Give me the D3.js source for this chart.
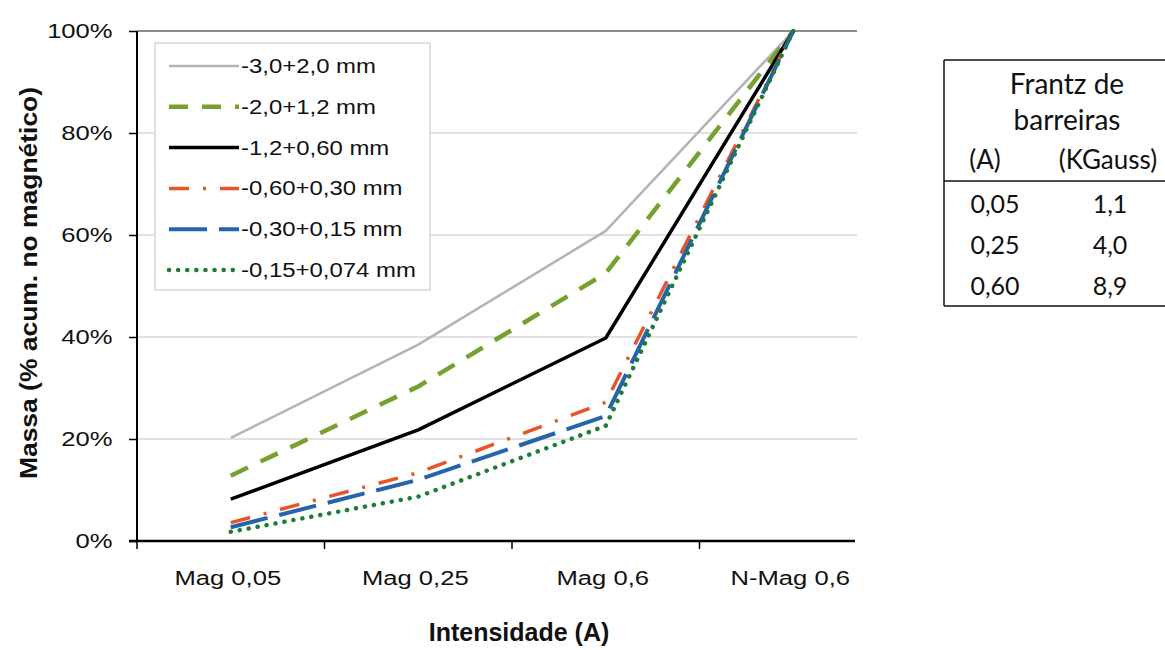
<!DOCTYPE html>
<html>
<head>
<meta charset="utf-8">
<script src="https://cdn.jsdelivr.net/npm/d3@7"></script>
<style>
  html, body { margin: 0; padding: 0; background: #fff; }
  svg { display: block; }
</style>
</head>
<body>
<svg id="chart" width="1165" height="650"></svg>
<script>
// ---- data ----
const categories = ["Mag 0,05", "Mag 0,25", "Mag 0,6", "N-Mag 0,6"];
const seriesNames = ["-3,0+2,0 mm", "-2,0+1,2 mm", "-1,2+0,60 mm", "-0,60+0,30 mm", "-0,30+0,15 mm", "-0,15+0,074 mm"];
const s_3_0 = [20.2, 38.5, 60.8, 100];
const s_2_0 = [12.8, 30.3, 52.5, 100];
const s_1_2 = [8.2, 21.8, 39.8, 100];
const s_0_60 = [3.6, 13.4, 27.2, 100];
const s_0_30 = [2.7, 12.0, 24.5, 100];
const s_0_15 = [1.8, 8.7, 22.6, 100];
const yTicks = [0, 20, 40, 60, 80, 100];
const tableHeader1 = ["Frantz de", "barreiras"];
const tableHeader2 = ["(A)", "(KGauss)"];
const tableAmps = ["0,05", "0,25", "0,60"];
const tableKGauss = ["1,1", "4,0", "8,9"];

const seriesValues = [s_3_0, s_2_0, s_1_2, s_0_60, s_0_30, s_0_15];
const styles = [
  { color: "#b4b4b4", width: 2.5, dash: null, cap: "butt" },
  { color: "#76a12f", width: 4.5, dash: "19,14", cap: "butt" },
  { color: "#000000", width: 3.5, dash: null, cap: "butt" },
  { color: "#e8542a", width: 3.5, dash: "20,14,3,14", cap: "butt" },
  { color: "#2464ad", width: 4, dash: "38,12", cap: "butt" },
  { color: "#1e7d36", width: 4.5, dash: "0.1,9", cap: "round" }
];

const svg = d3.select("#chart");
const FONT = "'Liberation Sans', Arial, sans-serif";
const SX = 1.22; // horizontal stretch of the scanned text

const plotLeft = 137, plotRight = 857, plotTop = 31, plotBottom = 541;
const x = d3.scaleBand().domain(categories).range([plotLeft, 887]).paddingInner(0).paddingOuter(0);
const y = d3.scaleLinear().domain([0, 100]).range([plotBottom, plotTop]);

// gridlines
svg.append("g").selectAll("line")
  .data(yTicks.filter(d => d > 0))
  .join("line")
  .attr("x1", plotLeft).attr("x2", plotRight)
  .attr("y1", d => y(d)).attr("y2", d => y(d))
  .attr("stroke", d => d === 100 ? "#8c8c8c" : "#e2e2e2")
  .attr("stroke-width", 2);

// y axis
const yAxis = svg.append("g")
  .attr("transform", `translate(${plotLeft},0)`)
  .call(d3.axisLeft(y).tickValues(yTicks).tickFormat(d => d + "%").tickSize(8).tickPadding(12));
yAxis.select(".domain").attr("stroke", "#000").attr("stroke-width", 2).attr("d", `M0,${plotTop}V${plotBottom}`);
yAxis.selectAll(".tick line").attr("stroke", "#000").attr("stroke-width", 1.5);
yAxis.selectAll(".tick text")
  .attr("font-family", FONT).attr("font-size", 21).attr("fill", "#111")
  .attr("transform", `scale(${SX},1)`);

// x axis
const xAxisG = svg.append("g");
xAxisG.append("line")
  .attr("x1", plotLeft - 8).attr("x2", 855)
  .attr("y1", plotBottom).attr("y2", plotBottom)
  .attr("stroke", "#000").attr("stroke-width", 2.5);
xAxisG.selectAll("line.tk")
  .data(categories)
  .join("line").attr("class", "tk")
  .attr("x1", d => x(d)).attr("x2", d => x(d))
  .attr("y1", plotBottom).attr("y2", plotBottom + 8)
  .attr("stroke", "#000").attr("stroke-width", 1.5);
xAxisG.selectAll("g.lbl")
  .data(categories)
  .join("g").attr("class", "lbl")
  .attr("transform", d => `translate(${x(d) + x.bandwidth() / 2 - 3},585) scale(${SX},1)`)
  .append("text")
  .attr("text-anchor", "middle")
  .attr("font-family", FONT).attr("font-size", 21).attr("fill", "#111")
  .text(d => d);

// axis titles
svg.append("g")
  .attr("transform", `translate(519,641)`)
  .append("text")
  .attr("text-anchor", "middle")
  .attr("font-family", FONT).attr("font-size", 25).attr("font-weight", "bold").attr("fill", "#111")
  .text("Intensidade (A)");
svg.append("g")
  .attr("transform", `translate(37,283) rotate(-90) scale(1.15,1)`)
  .append("text")
  .attr("text-anchor", "middle")
  .attr("font-family", FONT).attr("font-size", 23).attr("font-weight", "bold").attr("fill", "#111")
  .text("Massa (% acum. no magnético)");

// lines
const line = d3.line()
  .x((d, i) => x(categories[i]) + x.bandwidth() / 2)
  .y(d => y(d));
svg.append("g").selectAll("path")
  .data(seriesValues)
  .join("path")
  .attr("d", d => line(d))
  .attr("fill", "none")
  .attr("stroke", (d, i) => styles[i].color)
  .attr("stroke-width", (d, i) => styles[i].width)
  .attr("stroke-dasharray", (d, i) => styles[i].dash)
  .attr("stroke-linecap", (d, i) => styles[i].cap)
  .attr("stroke-linejoin", "round");

// legend
const leg = svg.append("g");
leg.append("rect")
  .attr("x", 155).attr("y", 43).attr("width", 275).attr("height", 247)
  .attr("fill", "#fff").attr("stroke", "#d6d6d6").attr("stroke-width", 1.5);
const legItems = leg.selectAll("g.item")
  .data(seriesNames)
  .join("g").attr("class", "item")
  .attr("transform", (d, i) => `translate(0,${66 + i * 40.8})`);
legItems.append("line")
  .attr("x1", 169).attr("x2", 239).attr("y1", 0).attr("y2", 0)
  .attr("stroke", (d, i) => styles[i].color)
  .attr("stroke-width", (d, i) => styles[i].width)
  .attr("stroke-dasharray", (d, i) => styles[i].dash)
  .attr("stroke-linecap", (d, i) => styles[i].cap);
legItems.append("g")
  .attr("transform", `translate(241,7) scale(1.14,1)`)
  .append("text")
  .attr("font-family", FONT).attr("font-size", 21).attr("fill", "#111")
  .text(d => d);

// table
const tbl = svg.append("g");
const TF = "Lato, 'Open Sans', sans-serif";
tbl.append("line").attr("x1", 944).attr("x2", 1165).attr("y1", 60).attr("y2", 60).attr("stroke", "#111").attr("stroke-width", 1.5);
tbl.append("line").attr("x1", 944).attr("x2", 1165).attr("y1", 181).attr("y2", 181).attr("stroke", "#111").attr("stroke-width", 1.5);
tbl.append("line").attr("x1", 944).attr("x2", 1165).attr("y1", 306).attr("y2", 306).attr("stroke", "#111").attr("stroke-width", 1.5);
tbl.append("line").attr("x1", 944).attr("x2", 944).attr("y1", 60).attr("y2", 306).attr("stroke", "#111").attr("stroke-width", 1.5);
tbl.selectAll("text.h1")
  .data(tableHeader1)
  .join("text").attr("class", "h1")
  .attr("x", 1067).attr("y", (d, i) => 94 + i * 36)
  .attr("text-anchor", "middle")
  .attr("font-family", TF).attr("font-size", 28).attr("fill", "#111")
  .text(d => d);
tbl.selectAll("text.h2")
  .data(tableHeader2)
  .join("text").attr("class", "h2")
  .attr("x", (d, i) => i === 0 ? 985 : 1108).attr("y", 169)
  .attr("text-anchor", "middle")
  .attr("font-family", TF).attr("font-size", 26).attr("fill", "#111")
  .text(d => d);
tbl.selectAll("text.a")
  .data(tableAmps)
  .join("text").attr("class", "a")
  .attr("x", 995).attr("y", (d, i) => 213 + i * 41)
  .attr("text-anchor", "middle")
  .attr("font-family", TF).attr("font-size", 25).attr("fill", "#111")
  .text(d => d);
tbl.selectAll("text.k")
  .data(tableKGauss)
  .join("text").attr("class", "k")
  .attr("x", 1110).attr("y", (d, i) => 213 + i * 41)
  .attr("text-anchor", "middle")
  .attr("font-family", TF).attr("font-size", 25).attr("fill", "#111")
  .text(d => d);
</script>
</body>
</html>
